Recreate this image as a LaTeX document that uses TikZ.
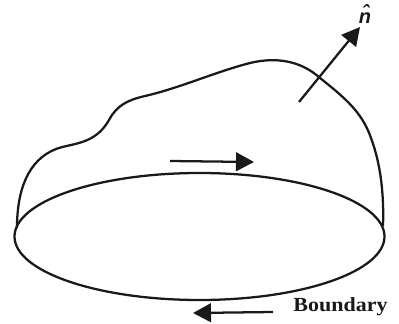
\documentclass[tikz,border=0pt]{standalone}
\usepackage{fontspec}
\setmainfont{Liberation Serif}
\newfontfamily\hatfont{Liberation Sans}
\usetikzlibrary{arrows.meta}
\tikzset{
  outline/.style={line width=1.7pt,black!90},
  flow/.style={line width=1.7pt,black!90,-{Triangle[length=13.5pt,width=14pt]}},
  lab/.style={inner sep=0pt,text=black!90}
}
\begin{document}
\begin{tikzpicture}[x=0.75pt,y=-0.75pt]
\useasboundingbox (0,0) rectangle (399,324);
% rim
\draw[outline] (199.5,236.5) ellipse [x radius=185,y radius=63.5];
% dome
\draw[outline] (17,228)
  .. controls (17,190) and (28,160) .. (56,149)
  .. controls (72,143) and (95,145) .. (109,120)
  .. controls (117,105) and (128,100) .. (145,96)
  .. controls (180,88) and (215,72) .. (250,63)
  .. controls (275,57) and (300,60) .. (320,78)
  .. controls (345,98) and (362,112) .. (371,138)
  .. controls (381,165) and (384,195) .. (383,226);
% arrows
\coordinate (nstart) at (299,102);
\coordinate (ntip) at (360,27);
\coordinate (mstart) at (170,161);
\coordinate (mtip) at (254,162);
\coordinate (bstart) at (273,312);
\coordinate (btip) at (193,313);
\draw[flow] (nstart) -- (ntip);
\draw[flow] (mstart) -- (mtip);
\draw[flow] (bstart) -- (btip);
\node[lab,font={\hatfont\bfseries\itshape\fontsize{15pt}{16pt}\selectfont}] (nhat) at (365,14) {\^{n}};
\node[lab,xscale=1.1,font={\bfseries\fontsize{15pt}{16pt}\selectfont}] (boundary) at (340.5,306.5) {Boundary};
\end{tikzpicture}
\end{document}
